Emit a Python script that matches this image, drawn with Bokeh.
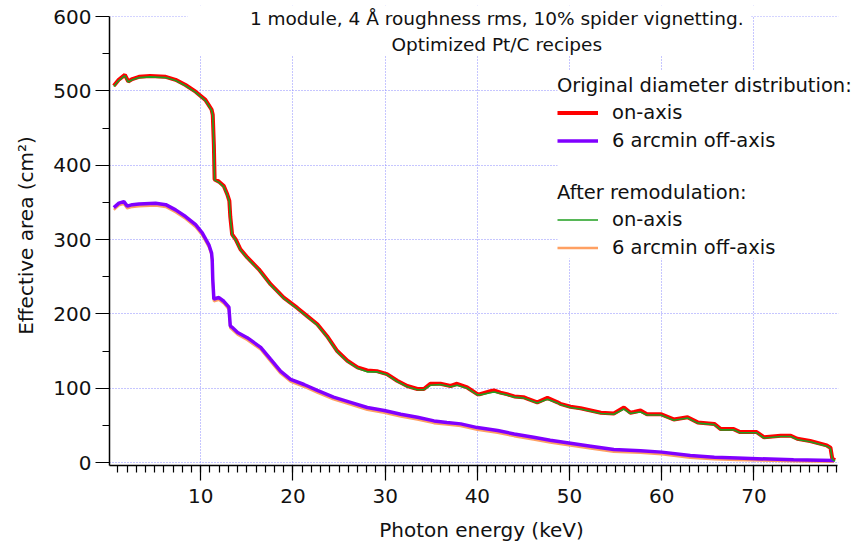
from bokeh.plotting import figure
from bokeh.models import (FixedTicker, Range1d, BoxAnnotation, Label, Legend, LegendItem)
from bokeh.embed import file_html
from bokeh.resources import INLINE

# ---------------- data ----------------
red_e = [0.57, 1.1, 1.77, 2.13, 2.57, 3.3, 4.5, 6.2, 7.27, 8.35, 9.44, 10.5, 11.17, 11.3,
         11.42, 11.5, 11.97, 12.5, 12.87, 13.1, 13.2, 13.4, 13.8, 14.3, 15.04, 16.3, 17.57,
         19.0, 20.47, 21.55, 22.64, 23.7, 24.8, 25.9, 27.0, 28.06, 29.1, 30.2, 31.3, 32.4,
         33.5, 34.2, 34.9, 36.0, 37.1, 37.8, 38.9, 40.0, 40.3, 41.4, 41.8, 42.5, 43.2, 44.0,
         45.0, 45.4, 46.5, 47.6, 48.7, 49.0, 50.1, 51.2, 52.3, 53.4, 54.8, 55.9, 56.6, 57.0,
         57.7, 58.4, 59.9, 61.3, 62.8, 63.9, 65.7, 66.4, 67.8, 68.5, 70.3, 71.1, 72.9, 74.0,
         74.7, 76.1, 77.9, 78.3, 78.5, 78.8]
red_a = [507, 515, 521.7, 512.8, 516, 519, 520, 519, 515, 508, 499, 488, 475, 468,
         428, 381, 378, 372, 361, 352, 331, 307, 300, 287, 276, 260, 240,
         222, 208, 197, 186, 170, 150, 137, 128, 124, 123, 119, 110, 103,
         99, 99, 106, 106, 103, 106, 101, 92, 92, 96, 97, 94, 92, 89,
         88, 86, 81, 87, 81, 79, 75, 73, 70, 67, 66, 74, 67, 68,
         70, 65, 65, 58, 61, 54, 52, 45, 45, 41, 41, 34, 36, 36,
         32, 29, 23, 20, 5, 3]
green_a = [506, 514, 520.5, 512, 515, 518, 519, 518, 514, 507, 498, 487, 474, 467,
           427, 380, 377, 371, 360, 351, 330, 306, 299, 286, 275, 259, 239,
           221, 207, 196, 185, 169, 149, 136, 127, 122, 122, 118, 109, 102,
           98, 98, 104, 105, 102, 104, 100, 91, 91, 94, 95, 93, 91, 88,
           87, 85, 80, 85, 80, 78, 74, 72, 69, 66, 65, 72, 66, 67,
           68, 64, 64, 57, 60, 53, 51, 44, 44, 40, 40, 33, 35, 35,
           31, 28, 22, 19, 4, 2]

pur_e = [0.57, 1.12, 1.66, 2.03, 2.57, 3.29, 5.1, 6.2, 7.27, 8.35, 9.44, 10.16, 10.88, 11.17,
         11.24, 11.3, 11.42, 11.97, 12.5, 13.05, 13.2, 13.4, 14.0, 15.04, 16.5, 17.57, 18.65,
         19.74, 21.2, 22.64, 24.4, 26.25, 28.06, 29.9, 31.7, 33.5, 35.3, 36.7, 38.2, 40.0,
         42.2, 44.0, 46.1, 47.9, 50.1, 52.3, 54.8, 57.7, 60.0, 63.1, 65.7, 68.2, 74.3, 78.7]
pur_a = [343, 349, 351, 345, 347, 348, 349, 347, 340, 331, 320, 309, 293, 282,
         273, 247, 220, 222, 217, 209, 184, 182, 175, 168, 155, 139, 123,
         112, 105, 97, 88, 81, 74, 70, 65, 61, 56, 54, 52, 47,
         43, 38.5, 34, 30, 26, 22, 17.5, 16, 14, 9.5, 7, 6, 3.6, 2.7]
orange_a = [340, 346, 348, 342, 344, 345, 346, 344, 337, 328, 317, 306, 290, 279,
            270, 244, 217, 219, 214, 206, 181, 179, 172, 165, 152, 136, 120,
            109, 102, 94, 85, 78, 71, 67, 62, 58, 53, 51, 49, 44,
            40, 35.5, 31, 27, 23, 19, 14.5, 13, 11, 6.5, 4.5, 3.5, 1.8, 1.2]

x_ticks = [10, 20, 30, 40, 50, 60, 70]
x_minor = list(range(1, 80))
y_ticks = [0, 100, 200, 300, 400, 500, 600]
y_minor = [50, 150, 250, 350, 450, 550]
x_axis_span = (0.1, 79.1)
y_axis_span = (-4, 600)

title_1 = "1 module, 4 Å roughness rms, 10% spider vignetting."
title_2 = "Optimized Pt/C recipes"

FONT = "DejaVu Sans"
GRID = "#8c8cff"
TXT = "#111111"

# the frame is a bit larger than the drawn axes, so that the title and legend
# texts (which overhang the axes in the reference) are not clipped
p = figure(width=867, height=546, x_range=Range1d(0.1, 80.8), y_range=Range1d(-4, 615),
           output_backend="svg", toolbar_location=None,
           min_border_left=109, min_border_right=14, min_border_top=5, min_border_bottom=81,
           background_fill_color="white", border_fill_color="white")
p.outline_line_color = None

# grid
p.xgrid.ticker = FixedTicker(ticks=x_ticks)
p.ygrid.ticker = FixedTicker(ticks=y_ticks)
for g in (p.xgrid, p.ygrid):
    g.grid_line_color = GRID
    g.grid_line_dash = "1 2"
    g.grid_line_width = 1

# axes
p.xaxis.ticker = FixedTicker(ticks=x_ticks, minor_ticks=x_minor)
p.yaxis.ticker = FixedTicker(ticks=y_ticks, minor_ticks=y_minor)
p.xaxis.bounds = x_axis_span
p.yaxis.bounds = y_axis_span
p.xaxis.axis_label = "Photon energy (keV)"
p.yaxis.axis_label = "Effective area (cm²)"
for ax in (p.xaxis, p.yaxis):
    ax.axis_line_color = "black"
    ax.axis_line_width = 1.5
    ax.major_tick_line_color = "black"
    ax.minor_tick_line_color = "black"
    ax.major_tick_line_width = 1.2
    ax.minor_tick_line_width = 1.2
    ax.major_tick_in = 0
    ax.minor_tick_in = 0
    ax.major_label_text_font = FONT
    ax.major_label_text_font_size = "20px"
    ax.major_label_text_color = TXT
    ax.axis_label_text_font = FONT
    ax.axis_label_text_font_size = "20px"
    ax.axis_label_text_font_style = "normal"
    ax.axis_label_text_color = TXT
p.xaxis.major_tick_out = 15
p.xaxis.minor_tick_out = 7
p.yaxis.major_tick_out = 14
p.yaxis.minor_tick_out = 7
p.xaxis.major_label_standoff = 8
p.yaxis.major_label_standoff = 4
p.xaxis.axis_label_standoff = 12
p.yaxis.axis_label_standoff = 12

# curves
r_red = p.line(red_e, red_a, line_color="#ff0000", line_width=4)
r_orange = p.line(pur_e, orange_a, line_color="#ffa062", line_width=2.5)
r_pur = p.line(pur_e, pur_a, line_color="#8000ff", line_width=3.5)
r_green = p.line(red_e, green_a, line_color="#1f9f1f", line_width=1.6)

# white boxes: behind the title, behind the legend, right of / above the axes' ends
p.add_layout(BoxAnnotation(left=8.57, right=69.7, bottom=547.6, fill_color="white",
                           fill_alpha=1, line_alpha=0))
p.add_layout(BoxAnnotation(left=48.7, bottom=274.5, top=527, fill_color="white",
                           fill_alpha=1, line_alpha=0))
p.add_layout(BoxAnnotation(left=79.15, fill_color="white", fill_alpha=1, line_alpha=0))
p.add_layout(BoxAnnotation(bottom=600.5, fill_color="white", fill_alpha=1, line_alpha=0))

# title
for txt, yy in ((title_1, 597), (title_2, 562)):
    p.add_layout(Label(x=42.1, y=yy, text=txt, text_align="center", text_baseline="middle",
                       text_font=FONT, text_font_size="18.5px", text_color=TXT))

# legends (location = bottom-left corner of the legend, from the frame's bottom-left)
def make_legend(title, items, bottom):
    return Legend(items=items, title=title, location=(448, bottom),
                  padding=0, margin=0, spacing=3, label_height=25, glyph_height=25,
                  glyph_width=41, label_standoff=14, title_standoff=3,
                  border_line_alpha=0, background_fill_alpha=0,
                  label_text_font=FONT, label_text_font_size="19.5px", label_text_color=TXT,
                  title_text_font=FONT, title_text_font_size="19.5px",
                  title_text_font_style="normal", title_text_color=TXT)

leg1 = make_legend("Original diameter distribution:",
                   [LegendItem(label="on-axis", renderers=[r_red]),
                    LegendItem(label="6 arcmin off-axis", renderers=[r_pur])], 312.5)
leg2 = make_legend("After remodulation:",
                   [LegendItem(label="on-axis", renderers=[r_green]),
                    LegendItem(label="6 arcmin off-axis", renderers=[r_orange])], 205.5)
p.add_layout(leg1)
p.add_layout(leg2)

open("out.html", "w").write(file_html(p, INLINE))
